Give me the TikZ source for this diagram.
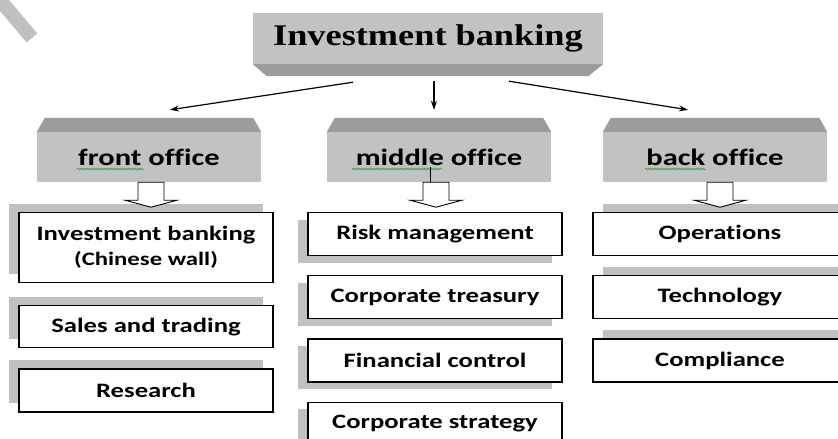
\documentclass[tikz,border=0pt]{standalone}
\usepackage{fontspec}
\usepackage{xcolor}
\usepackage{tikz}
\usetikzlibrary{arrows.meta,positioning,shadows,decorations.pathmorphing}
\newfontfamily\titlefont[FakeStretch=1.21]{Liberation Serif}
\newfontfamily\bodyfont[FakeStretch=1.3, Ligatures=NoCommon]{Carlito}
\definecolor{facegray}{RGB}{194,194,194}
\definecolor{bevelgray}{RGB}{156,156,156}
\definecolor{shadegray}{RGB}{192,192,192}
\definecolor{spellgreen}{RGB}{60,165,60}
\tikzset{
    topbox/.style={rectangle, fill=facegray, minimum width=350pt, minimum height=51pt, inner sep=0, font=\titlefont\bfseries\fontsize{30}{34}\selectfont},
    office/.style={rectangle, fill=facegray, minimum width=224pt, minimum height=50pt, inner sep=0, font=\bodyfont\bfseries\fontsize{23.5}{28}\selectfont},
    item/.style={rectangle, draw, line width=1.2pt, fill=white, minimum width=254pt, minimum height=43pt, inner sep=0, align=center, font=\bodyfont\bfseries\fontsize{20.5}{26}\selectfont},
    fitem/.style={item, general shadow={fill=shadegray, shadow xshift=-10pt, shadow yshift=9pt}},
    mitem/.style={item, general shadow={fill=shadegray, shadow xshift=-10pt, shadow yshift=-7pt}},
    bitem/.style={item, general shadow={fill=shadegray, shadow xshift=10pt, shadow yshift=9pt}},
    bevel/.style={fill=bevelgray},
    link/.style={-{Stealth[length=9pt, width=6pt]}, line width=1.2pt},
    hollow/.style={draw, fill=white, line width=0.9pt},
    squiggle/.style={draw=spellgreen, line width=0.8pt, decorate, decoration={snake, amplitude=0.8pt, segment length=3pt}},
}

\begin{document}
\begin{tikzpicture}[x=1pt, y=-1pt, node distance=19pt]
    \useasboundingbox (0,0) rectangle (838,439);
    \clip (0,0) rectangle (838,439);
    \draw[shadegray, line width=14pt] (-6,-7) -- (32,38);

    % top
    \node[topbox] (ib) at (428,38.5) {Investment banking};
    \fill[bevel] (ib.south west) -- (ib.south east) -- ++(-15,12) -- ([xshift=14pt,yshift=-12pt]ib.south west) -- cycle;

    % offices
    \node[office] (fo) at (149,157) {front office};
    \node[office] (mo) at (439,157) {middle office};
    \node[office] (bo) at (715,157) {back office};
    \foreach \o in {fo,mo,bo}
        \fill[bevel] (\o.north west) -- (\o.north east) -- ++(-8,-14) -- ([xshift=8pt,yshift=14pt]\o.north west) -- cycle;
    \draw[squiggle] (77,169) -- (144,169);
    \draw[squiggle] (352,169) -- (442,169);
    \draw[squiggle] (645,169) -- (706,169);

    \draw[link] ([xshift=-75pt,yshift=-18pt]ib.south) -- ([xshift=21pt,yshift=22pt]fo.north);
    \draw[link] ([xshift=6pt,yshift=-17pt]ib.south) -- ([xshift=-5pt,yshift=22pt]mo.north);
    \draw[link] ([xshift=81pt,yshift=-17pt]ib.south) -- ([xshift=-27pt,yshift=22pt]bo.north);

    % front office
    \node[fitem, minimum height=70pt, anchor=north] (f1) at (146,212) {Investment banking\\[-1pt]{\fontsize{19}{21}\selectfont (Chinese wall)}};
    \node[fitem, minimum height=42pt, below=22pt of f1] (f2) {Sales and trading};
    \node[fitem, below=20pt of f2] (f3) {Research};

    % middle office
    \node[mitem, anchor=north] (m1) at (435,212) {Risk management};
    \node[mitem, below=of m1] (m2) {Corporate treasury};
    \node[mitem, below=of m2] (m3) {Financial control};
    \node[mitem, below=of m3] (m4) {Corporate strategy};

    % back office
    \node[bitem, anchor=north] (b1) at (720,212) {Operations};
    \node[bitem, below=of b1] (b2) {Technology};
    \node[bitem, below=of b2] (b3) {Compliance};

    \foreach \o/\s in {fo/2, mo/-3, bo/5}
        \draw[hollow] ([xshift=\s pt]\o.south) ++(-13,0) -- ++(0,18) -- ++(-13,0) -- ++(26,7) -- ++(26,-7) -- ++(-13,0) -- ++(0,-18) -- cycle;
    \draw[line width=0.9pt] ([xshift=-9pt,yshift=-10pt]mo.center) -- ([xshift=-9pt]mo.south);
\end{tikzpicture}
\end{document}
